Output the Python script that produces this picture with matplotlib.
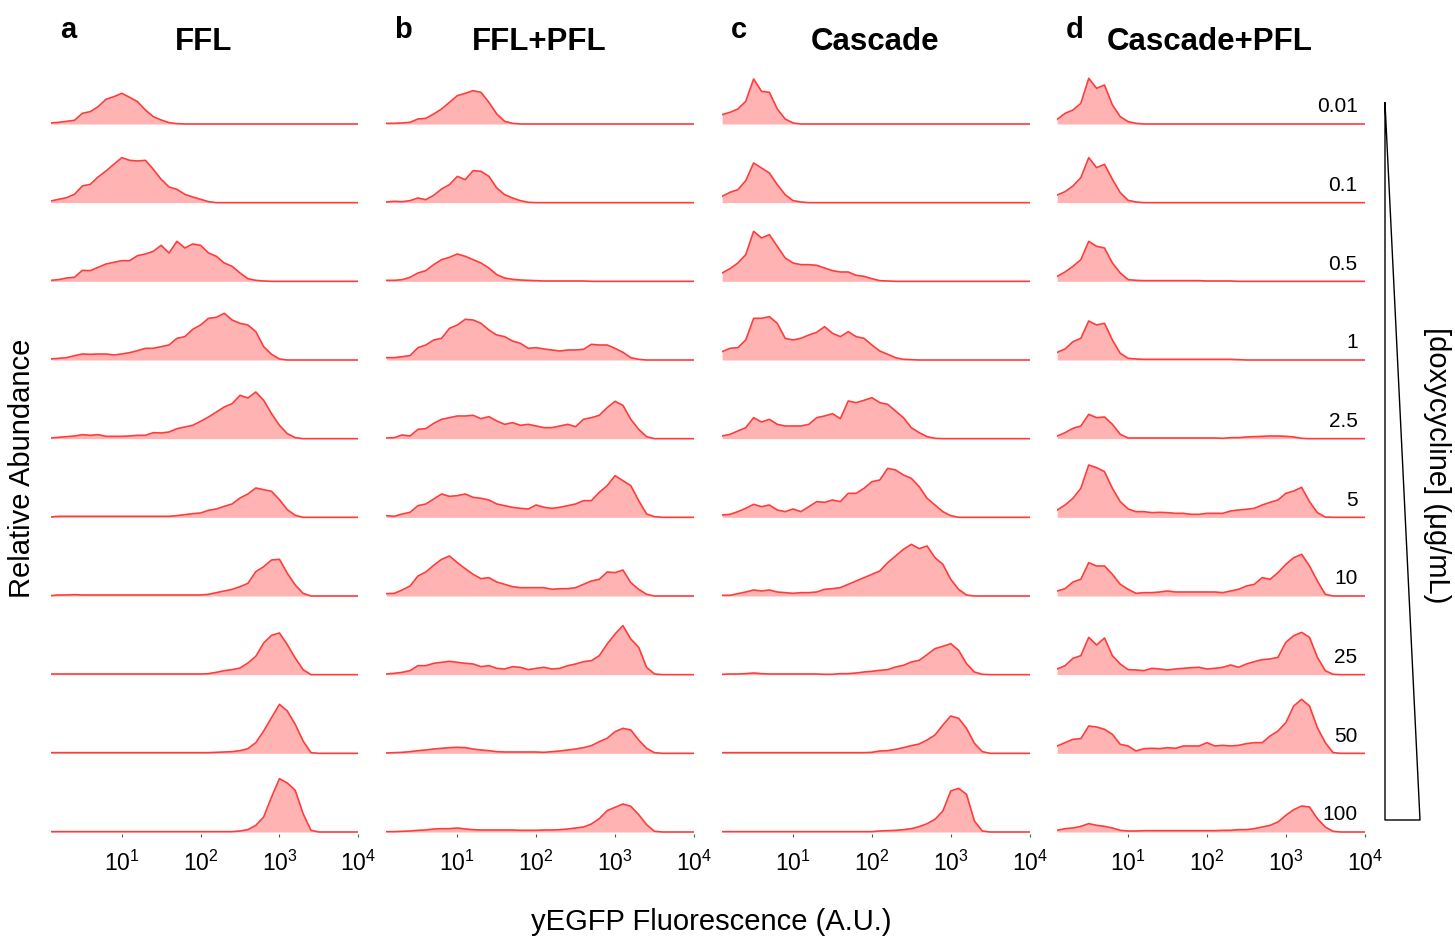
import numpy as np
import matplotlib
matplotlib.use("Agg")
import matplotlib.pyplot as plt
from matplotlib.lines import Line2D
from matplotlib.ticker import NullLocator, LogFormatterSciNotation

plt.rcParams['font.family'] = ['Liberation Sans', 'DejaVu Sans']
plt.rcParams['mathtext.fontset'] = 'custom'
plt.rcParams['mathtext.rm'] = 'Liberation Sans'

# histogram bins, log10 of fluorescence
log_bins = np.round(np.arange(0.1, 4.05, 0.1), 1)

dox_labels = ['0.01', '0.1', '0.5', '1', '2.5', '5', '10', '25', '50', '100']
panel_titles = ['FFL', 'FFL+PFL', 'Cascade', 'Cascade+PFL']
panel_letters = ['a', 'b', 'c', 'd']

# relative abundance per bin (arbitrary units), rows top (0.01) to bottom (100)
ffl = [
    [3, 5, 8, 11, 32, 37, 52, 74, 82, 92, 80, 67, 42, 22, 12, 4, 1] + [0] * 23,
    [5, 10, 15, 25, 50, 55, 77, 95, 115, 135, 127, 125, 127, 100, 70, 47, 40, 25, 17, 10, 3] + [0] * 19,
    [3, 5, 10, 12, 33, 32, 42, 52, 57, 62, 62, 77, 82, 90, 108, 85, 120, 100, 112, 108, 85, 75, 55, 45,
     25, 8, 3, 1] + [0] * 12,
    [3, 5, 7, 13, 18, 17, 18, 18, 15, 18, 22, 28, 35, 35, 40, 45, 65, 70, 92, 105, 125, 128, 140, 120,
     110, 105, 85, 40, 17, 3] + [0] * 10,
    [2, 4, 6, 8, 12, 10, 12, 7, 7, 7, 8, 10, 10, 18, 17, 20, 30, 35, 40, 52, 65, 80, 95, 105, 130, 122,
     140, 115, 75, 40, 15, 3] + [0] * 8,
    [1, 3, 3, 3, 3, 3, 3, 3, 3, 3, 3, 3, 3, 3, 3, 3, 5, 8, 11, 13, 21, 25, 33, 40, 58, 70, 88, 83, 78,
     53, 23, 6] + [0] * 8,
    [1, 3, 3, 4, 3, 3, 3, 3, 3, 3, 3, 3, 3, 3, 3, 3, 3, 3, 3, 3, 5, 10, 15, 20, 28, 38, 73, 88, 108, 110,
     68, 33, 8] + [0] * 7,
    [2] * 20 + [3, 7, 12, 15, 20, 35, 55, 95, 118, 125, 90, 50, 15] + [0] * 7,
    [2] * 21 + [3, 4, 5, 8, 14, 32, 67, 107, 147, 127, 87, 37, 2] + [0] * 6,
    [1] * 24 + [3, 7, 20, 45, 105, 160, 147, 125, 55, 5] + [0] * 6,
]

ffl_pfl = [
    [2, 2, 3, 5, 15, 17, 30, 45, 65, 85, 92, 100, 95, 65, 30, 8, 2] + [0] * 23,
    [2, 4, 3, 6, 14, 9, 22, 41, 54, 79, 69, 96, 94, 79, 44, 24, 14, 6, 1] + [0] * 21,
    [3, 3, 5, 12, 25, 32, 50, 65, 72, 82, 75, 65, 55, 40, 20, 10, 6, 4, 3, 2, 1, 1, 1, 1, 1, 1] + [0] * 14,
    [7, 7, 10, 13, 37, 45, 60, 65, 95, 105, 122, 120, 110, 90, 75, 70, 57, 50, 35, 37, 33, 30, 27, 30,
     30, 32, 47, 45, 45, 35, 23, 7, 2] + [0] * 7,
    [2, 3, 11, 8, 28, 30, 46, 58, 63, 68, 68, 70, 60, 66, 53, 43, 48, 40, 43, 38, 33, 33, 38, 43, 36, 58,
     63, 70, 93, 112, 100, 58, 28, 6] + [0] * 6,
    [5, 3, 10, 15, 35, 40, 55, 70, 63, 65, 70, 60, 57, 52, 40, 35, 30, 27, 25, 37, 30, 27, 30, 35, 40,
     50, 50, 75, 95, 125, 110, 95, 50, 10, 2] + [0] * 5,
    [7, 8, 18, 30, 60, 72, 92, 110, 120, 100, 82, 65, 52, 55, 42, 35, 28, 25, 25, 25, 25, 20, 22, 22, 25,
     35, 45, 50, 72, 70, 78, 40, 20, 5] + [0] * 6,
    [2, 4, 7, 12, 27, 27, 34, 37, 40, 37, 34, 32, 24, 27, 19, 17, 24, 22, 15, 19, 22, 17, 19, 27, 32, 39,
     42, 57, 92, 122, 147, 107, 82, 22, 2] + [0] * 5,
    [1, 2, 3, 5, 8, 10, 13, 15, 17, 18, 17, 13, 10, 8, 5, 4, 4, 4, 4, 4, 3, 5, 7, 10, 13, 17, 23, 35, 45,
     65, 75, 70, 40, 15, 2] + [0] * 5,
    [1, 1, 2, 3, 5, 6, 9, 10, 10, 12, 9, 7, 6, 6, 6, 6, 6, 5, 5, 5, 6, 6, 7, 9, 12, 15, 24, 40, 64, 74,
     84, 77, 52, 22, 2] + [0] * 5,
]

cascade = [
    [28, 35, 45, 68, 135, 98, 95, 45, 15, 3] + [0] * 30,
    [19, 31, 39, 66, 119, 104, 89, 54, 24, 6, 2] + [0] * 29,
    [25, 38, 55, 80, 150, 130, 140, 105, 70, 55, 50, 50, 48, 40, 32, 28, 28, 18, 15, 8, 2, 1] + [0] * 18,
    [25, 35, 37, 60, 125, 125, 130, 110, 65, 60, 65, 75, 83, 100, 80, 70, 85, 70, 65, 45, 27, 17, 7, 2,
     1] + [0] * 15,
    [8, 13, 23, 33, 63, 50, 58, 43, 38, 38, 38, 43, 63, 68, 75, 60, 113, 108, 115, 123, 108, 103, 83, 63,
     33, 18, 6, 1] + [0] * 12,
    [7, 9, 17, 27, 39, 32, 37, 22, 17, 25, 17, 32, 47, 45, 52, 47, 72, 72, 87, 107, 112, 147, 142, 127,
     117, 92, 57, 37, 17, 5] + [0] * 10,
    [2, 2, 7, 12, 18, 15, 18, 12, 10, 8, 10, 10, 12, 20, 22, 25, 35, 45, 55, 65, 75, 100, 120, 140, 155,
     142, 150, 115, 95, 50, 20, 3] + [0] * 8,
    [1, 2, 2, 3, 5, 3, 2, 2, 2, 2, 2, 2, 2, 1, 1, 3, 3, 5, 8, 10, 13, 15, 23, 28, 38, 43, 60, 78, 85, 93,
     73, 33, 8, 1] + [0] * 6,
    [2] * 19 + [3, 7, 8, 12, 17, 23, 28, 40, 55, 85, 112, 105, 75, 30, 5] + [0] * 6,
    [1] * 20 + [3, 4, 5, 7, 10, 16, 25, 38, 63, 123, 131, 113, 33, 3] + [0] * 6,
]

cascade_pfl = [
    [14, 32, 42, 62, 137, 107, 117, 57, 22, 7, 2] + [0] * 29,
    [23, 33, 50, 75, 135, 105, 115, 70, 30, 7, 2] + [0] * 29,
    [15, 28, 45, 65, 120, 105, 100, 55, 25, 5, 3, 2, 2, 2, 2, 2, 2, 2, 2, 1, 1, 1, 1] + [0] * 17,
    [23, 33, 55, 65, 117, 105, 110, 60, 20, 5, 3, 2, 2, 2, 2, 2, 2, 2, 2, 2, 2, 2, 2, 1] + [0] * 16,
    [8, 18, 31, 38, 73, 63, 65, 43, 13, 2, 2, 2, 2, 2, 2, 2, 2, 2, 2, 2, 2, 1, 3, 3, 5, 6, 7, 8, 8, 7,
     5, 1] + [0] * 8,
    [22, 37, 57, 87, 157, 149, 137, 87, 47, 25, 17, 17, 14, 15, 14, 12, 12, 9, 9, 12, 12, 12, 19, 22, 24,
     27, 37, 45, 52, 72, 79, 90, 47, 14, 1] + [0] * 5,
    [15, 22, 42, 50, 100, 90, 90, 65, 35, 20, 8, 10, 10, 12, 15, 12, 12, 12, 12, 12, 12, 10, 15, 20, 30,
     35, 55, 50, 70, 95, 115, 125, 90, 45, 5] + [0] * 5,
    [17, 27, 49, 57, 112, 89, 110, 57, 32, 15, 14, 12, 19, 17, 14, 17, 19, 21, 22, 17, 19, 22, 29, 22,
     32, 39, 45, 47, 52, 97, 117, 127, 112, 52, 12, 1] + [0] * 4,
    [22, 32, 42, 44, 82, 79, 72, 57, 27, 22, 7, 14, 15, 14, 17, 15, 22, 22, 22, 32, 22, 24, 22, 24, 29,
     32, 32, 52, 67, 92, 142, 162, 142, 77, 32, 2] + [0] * 4,
    [5, 10, 12, 17, 25, 20, 17, 12, 5, 3, 3, 4, 4, 4, 4, 4, 4, 4, 4, 4, 4, 5, 5, 7, 7, 10, 15, 20, 30, 50,
     67, 78, 75, 40, 15, 2] + [0] * 4,
]

panels = [ffl, ffl_pfl, cascade, cascade_pfl]

W, H = 1455, 939
fig = plt.figure(figsize=(W / 100, H / 100), dpi=100)

row_gap = 236
ax_lefts = [50.8, 386.4, 722.1, 1057.2]
ax_w = 307.5
ax_bottom, ax_top = 834, 62

x = 10 ** log_bins
fill_c = '#ffb3b3'
line_c = '#ff3b3b'

for k, data in enumerate(panels):
    ax = fig.add_axes([ax_lefts[k] / W, 1 - ax_bottom / H, ax_w / W, (ax_bottom - ax_top) / H])
    for i, row in enumerate(data):
        base = (9 - i) * row_gap
        y = base + np.array(row, dtype=float)
        ax.fill_between(x, base, y, color=fill_c, lw=0)
        ax.plot(x, y, color=line_c, lw=1.2)
        if k == 3:
            ax.text(10 ** 3.91, base + 52, dox_labels[i], ha='right', va='center',
                    fontsize=15, zorder=5)
    ax.set_xscale('log')
    ax.set_xlim(10 ** 0.1, 10 ** 4)
    ax.set_ylim(-6, 2310)
    ax.set_xticks([10, 100, 1000, 10000])
    ax.xaxis.set_major_formatter(LogFormatterSciNotation())
    ax.xaxis.set_minor_locator(NullLocator())
    ax.set_yticks([])
    for s in ax.spines.values():
        s.set_visible(False)
    ax.tick_params(axis='x', length=2, width=0.8, color='#555555', labelsize=16.5, pad=10)
    ax.patch.set_alpha(0)

    cx = (ax_lefts[k] + ax_w / 2 - 1) / W
    fig.text(cx, 1 - 42 / H, panel_titles[k], ha='center', va='center',
             fontsize=22.5, fontweight='bold')
    fig.text((ax_lefts[k] + 17) / W, 1 - 30 / H, panel_letters[k], ha='center', va='center',
             fontsize=21, fontweight='bold')

fig.text(22 / W, 1 - 468 / H, 'Relative Abundance', rotation=90, ha='center', va='center', fontsize=21)
fig.text(711 / W, 1 - 922 / H, 'yEGFP Fluorescence (A.U.)', ha='center', va='center', fontsize=21)
fig.text(1437 / W, 1 - 465 / H, '[doxycycline] (μg/mL)', rotation=-90, ha='center', va='center',
         fontsize=21)

# concentration wedge
tx = [1385, 1385, 1420, 1385]
ty = [103, 820, 820, 103]
fig.add_artist(Line2D([v / W for v in tx], [1 - v / H for v in ty], color='black', lw=1.0,
                      transform=fig.transFigure))

fig.savefig('out.png', dpi=100)
